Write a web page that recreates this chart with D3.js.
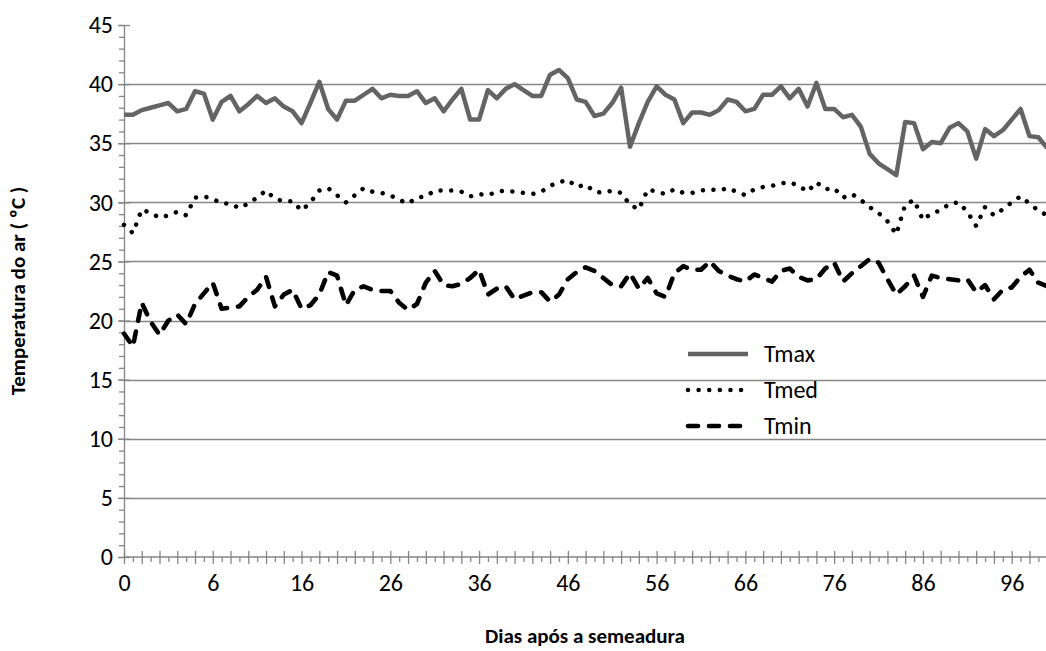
<!DOCTYPE html>
<html>
<head>
<meta charset="utf-8">
<script src="https://cdn.jsdelivr.net/npm/d3@7"></script>
<style>
  html, body { margin: 0; padding: 0; background: #ffffff; }
  svg { display: block; }
  text { font-family: Carlito, Calibri, Lato, "Open Sans", sans-serif; fill: #000; }
</style>
</head>
<body>
<svg id="chart" width="1046" height="651"></svg>
<script>
// ---- data ----
const xTickLabels = ["0", "6", "16", "26", "36", "46", "56", "66", "76", "86", "96"];
const labelEvery = 10;   // one label every 10 categories

const tmax = [
  37.4, 37.4, 37.8, 38.0, 38.2, 38.4, 37.7, 37.9, 39.4, 39.2,
  37.0, 38.5, 39.0, 37.7, 38.3, 39.0, 38.4, 38.8, 38.1, 37.7,
  36.7, 38.4, 40.2, 37.9, 37.0, 38.6, 38.6, 39.1, 39.6, 38.8,
  39.1, 39.0, 39.0, 39.4, 38.4, 38.8, 37.7, 38.7, 39.6, 37.0,
  37.0, 39.5, 38.8, 39.6, 40.0, 39.5, 39.0, 39.0, 40.8, 41.2,
  40.5, 38.7, 38.5, 37.3, 37.5, 38.4, 39.7, 34.7, 36.7, 38.5,
  39.8, 39.1, 38.7, 36.7, 37.6, 37.6, 37.4, 37.8, 38.7, 38.5,
  37.7, 37.9, 39.1, 39.1, 39.8, 38.8, 39.6, 38.1, 40.1, 37.9,
  37.9, 37.2, 37.4, 36.4, 34.1, 33.3, 32.8, 32.3, 36.8, 36.7,
  34.5, 35.1, 35.0, 36.3, 36.7, 36.0, 33.7, 36.2, 35.6, 36.1,
  37.0, 37.9, 35.6, 35.5, 34.6
];
const tmed = [
  28.1, 27.4, 29.4, 29.1, 28.7, 28.9, 29.2, 28.9, 30.4, 30.5,
  30.3, 29.9, 29.9, 29.5, 29.9, 30.4, 31.0, 30.3, 30.1, 30.1,
  29.3, 30.0, 31.0, 31.2, 30.6, 30.0, 30.6, 31.2, 30.9, 30.8,
  30.6, 30.2, 29.9, 30.4, 30.5, 31.0, 31.0, 31.0, 30.9, 30.5,
  30.7, 30.6, 30.9, 31.0, 30.9, 30.8, 30.7, 30.9, 31.4, 31.7,
  31.9, 31.3, 31.5, 30.9, 30.8, 31.0, 30.8, 29.8, 29.4, 31.1,
  30.9, 30.7, 31.1, 30.8, 30.8, 31.0, 31.1, 31.0, 31.2, 30.9,
  30.6, 31.1, 31.3, 31.4, 31.6, 31.7, 31.4, 30.9, 31.7, 31.1,
  31.2, 30.4, 30.7, 30.2, 29.6, 29.1, 28.4, 27.3, 29.8, 30.2,
  28.5, 29.1, 29.3, 29.9, 30.0, 29.2, 28.0, 29.6, 28.9, 29.4,
  30.0, 30.5, 29.9, 29.3, 28.9
];
const tmin = [
  18.9, 17.8, 21.5, 19.9, 18.8, 20.0, 20.5, 19.7, 21.4, 22.3,
  23.2, 21.0, 21.1, 21.2, 22.0, 22.6, 23.7, 21.2, 22.2, 22.6,
  21.0, 21.3, 22.2, 24.1, 23.8, 21.3, 22.6, 22.9, 22.6, 22.5,
  22.5, 21.5, 20.9, 21.4, 23.2, 24.2, 23.0, 22.9, 23.1, 23.6,
  24.3, 22.2, 22.7, 22.9, 21.8, 22.1, 22.4, 22.4, 21.6, 22.2,
  23.5, 24.1, 24.5, 24.2, 23.6, 23.0, 22.9, 24.0, 22.7, 23.6,
  22.3, 22.0, 24.0, 24.6, 24.3, 24.3, 25.0, 24.2, 23.8, 23.5,
  23.3, 23.9, 23.6, 23.3, 24.2, 24.4, 23.7, 23.4, 23.5, 24.4,
  24.9, 23.3, 24.0, 24.6, 25.2, 24.9, 23.5, 22.2, 22.9, 23.8,
  22.0, 23.8, 23.6, 23.5, 23.4, 23.5, 22.4, 23.0, 21.8, 22.6,
  22.8, 23.7, 24.3, 23.2, 22.9
];
const seriesNames = ["Tmax", "Tmed", "Tmin"];
const yTicks = [0, 5, 10, 15, 20, 25, 30, 35, 40, 45];
const yTitle = "Temperatura do ar ( ºC )";
const xTitle = "Dias após a semeadura";

// ---- layout ----
const svg = d3.select("#chart");
const axisColor = "#868686";
const fontFam = "Carlito, Calibri, Lato, sans-serif";
const x = d3.scaleLinear().domain([0, 100]).range([124, 1011.7]);
const y = d3.scaleLinear().domain([0, 45]).range([557, 25]);
const nCat = tmax.length;

// gridlines
svg.append("g").selectAll("line")
  .data(yTicks.filter(v => v > 0 && v < 45))
  .join("line")
  .attr("x1", x(0)).attr("x2", 1046)
  .attr("y1", d => Math.round(y(d)) + 0.5).attr("y2", d => Math.round(y(d)) + 0.5)
  .attr("stroke", axisColor).attr("stroke-width", 1.3);

// y axis
const yAxisMinor = d3.axisLeft(y).tickValues(d3.range(0, 46, 1)).tickSize(5).tickFormat("");
const gyMinor = svg.append("g").attr("transform", `translate(${x(0)},0)`).call(yAxisMinor);
gyMinor.select(".domain").remove();
gyMinor.selectAll("line").attr("stroke", axisColor).attr("stroke-width", 1.3);

const yAxis = d3.axisLeft(y).tickValues(yTicks).tickSizeInner(6).tickSizeOuter(0).tickPadding(5);
const gy = svg.append("g").attr("transform", `translate(${x(0)},0)`).call(yAxis);
gy.select(".domain").attr("stroke", axisColor).attr("stroke-width", 1.3);
gy.selectAll(".tick line").attr("stroke", axisColor).attr("stroke-width", 1.3).attr("x2", 6).attr("x1", -6);
gy.selectAll("text").attr("font-size", 24).attr("fill", "#000").style("font-family", fontFam);

// x axis
const catIdx = d3.range(0, nCat);
const xAxisMinor = d3.axisBottom(x).tickValues(catIdx.filter(i => i % 2 === 1)).tickSize(5).tickFormat("");
const gxMinor = svg.append("g").attr("transform", `translate(0,${y(0)})`).call(xAxisMinor);
gxMinor.select(".domain").remove();
gxMinor.selectAll("line").attr("stroke", axisColor).attr("stroke-width", 1.3);

const xAxisMajor = d3.axisBottom(x).tickValues(catIdx.filter(i => i % 2 === 0)).tickSize(7).tickFormat("");
const gxMajor = svg.append("g").attr("transform", `translate(0,${y(0)})`).call(xAxisMajor);
gxMajor.select(".domain").remove();
gxMajor.selectAll("line").attr("stroke", axisColor).attr("stroke-width", 1.3).attr("y1", -6);

svg.append("line").attr("x1", x(0)).attr("x2", 1046).attr("y1", y(0)).attr("y2", y(0))
  .attr("stroke", axisColor).attr("stroke-width", 1.3);

const labelIdx = xTickLabels.map((_, k) => k * labelEvery);
const xAxisLabels = d3.axisBottom(x).tickValues(labelIdx).tickSize(0).tickPadding(17)
  .tickFormat((d, k) => xTickLabels[k]);
const gxL = svg.append("g").attr("transform", `translate(0,${y(0)})`).call(xAxisLabels);
gxL.select(".domain").remove();
gxL.selectAll("text").attr("font-size", 24).attr("fill", "#000").style("font-family", fontFam);

// titles
svg.append("text").attr("x", 585).attr("y", 643).attr("text-anchor", "middle")
  .attr("font-size", 21).attr("font-weight", "bold").text(xTitle);
svg.append("text").attr("transform", "translate(25,291) rotate(-90)").attr("text-anchor", "middle")
  .attr("font-size", 21).attr("font-weight", "bold").text(yTitle);

// lines
const line = d3.line().x((d, i) => x(i)).y(d => y(d));
const styles = {
  Tmax: { stroke: "#646464", width: 4.5, dash: null, cap: "butt" },
  Tmed: { stroke: "#000000", width: 4.5, dash: "0.01 10.6", cap: "round" },
  Tmin: { stroke: "#000000", width: 4.6, dash: "10 11", cap: "round" }
};
const dataBy = { Tmax: tmax, Tmed: tmed, Tmin: tmin };
seriesNames.slice().reverse().forEach(name => {
  const s = styles[name];
  svg.append("path").datum(dataBy[name])
    .attr("d", line)
    .attr("fill", "none")
    .attr("stroke", s.stroke)
    .attr("stroke-width", s.width)
    .attr("stroke-linejoin", "round")
    .attr("stroke-linecap", s.cap)
    .attr("stroke-dasharray", s.dash);
});

// legend
const legend = svg.append("g");
const legY = [354, 390, 426];
seriesNames.forEach((name, k) => {
  const s = styles[name];
  legend.append("line").attr("x1", 688).attr("x2", 748)
    .attr("y1", legY[k]).attr("y2", legY[k])
    .attr("stroke", s.stroke).attr("stroke-width", s.width)
    .attr("stroke-linecap", s.cap).attr("stroke-dasharray", s.dash);
  legend.append("text").attr("x", 764).attr("y", legY[k] + 8)
    .attr("font-size", 24).style("font-family", fontFam).text(name);
});
</script>
</body>
</html>
